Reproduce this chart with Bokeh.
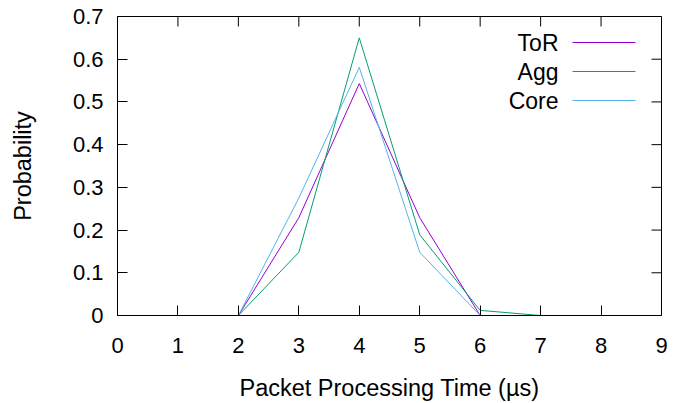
from bokeh.plotting import figure
from bokeh.models import Range1d, FixedTicker, Arrow, Label
from bokeh.embed import file_html
from bokeh.resources import INLINE

# ---- data ----
x_values = [0, 1, 2, 3, 4, 5, 6, 7, 8, 9]
tor_values = [0, 0, 0, 0.229, 0.543, 0.229, 0, 0, 0, 0]
agg_values = [0, 0, 0, 0.148, 0.650, 0.189, 0.012, 0, 0, 0]
core_values = [0, 0, 0, 0.275, 0.581, 0.148, 0, 0, 0, 0]
series_names = ["ToR", "Agg", "Core"]
series_colors = ["#9400d3", "#009e73", "#56b4e9"]
x_ticks = [0, 1, 2, 3, 4, 5, 6, 7, 8, 9]
y_ticks = [0, 0.1, 0.2, 0.3, 0.4, 0.5, 0.6, 0.7]
y_tick_labels = ["0", "0.1", "0.2", "0.3", "0.4", "0.5", "0.6", "0.7"]
x_label = "Packet Processing Time (µs)"
y_label = "Probability"

FONT = "Liberation Sans"
TICK_FS = "22px"
LABEL_FS = "23.5px"
LEGEND_FS = "23px"

W, H = 689, 403
ML, MR, MT, MB = 117, 28, 16, 88
FRAME_W = W - ML - MR
FRAME_H = H - MT - MB
TICK_LEN = 10

p = figure(width=W, height=H,
           x_range=Range1d(x_ticks[0], x_ticks[-1]),
           y_range=Range1d(y_ticks[0], y_ticks[-1]),
           output_backend="svg", toolbar_location=None,
           min_border_left=ML, min_border_right=MR,
           min_border_top=MT, min_border_bottom=MB)
p.grid.visible = False
p.outline_line_color = "black"
p.outline_line_width = 1
p.background_fill_color = "white"
p.border_fill_color = "white"

for ax in p.xaxis + p.yaxis:
    ax.major_tick_in = TICK_LEN
    ax.major_tick_out = 0
    ax.minor_tick_in = 0
    ax.minor_tick_out = 0
    ax.axis_line_color = "black"
    ax.major_tick_line_color = "black"
    ax.major_label_text_font = FONT
    ax.major_label_text_font_size = TICK_FS
    ax.major_label_text_color = "black"
    ax.axis_label_text_font = FONT
    ax.axis_label_text_font_size = LABEL_FS
    ax.axis_label_text_font_style = "normal"
    ax.axis_label_text_color = "black"

p.xaxis.ticker = FixedTicker(ticks=x_ticks)
p.yaxis.ticker = FixedTicker(ticks=y_ticks)
p.yaxis.major_label_overrides = dict(zip(y_ticks, y_tick_labels))
p.xaxis.axis_label = x_label
p.yaxis.axis_label = y_label
p.xaxis.major_label_standoff = 22
p.xaxis.axis_label_standoff = 19
p.yaxis.major_label_standoff = 14
p.yaxis.axis_label_standoff = 34

# mirrored ticks on the top and right edges
x0, x1 = x_ticks[0], x_ticks[-1]
y0, y1 = y_ticks[0], y_ticks[-1]
dy = (y1 - y0) / FRAME_H * TICK_LEN
dx = (x1 - x0) / FRAME_W * TICK_LEN
p.segment(x0=x_ticks, y0=[y1] * len(x_ticks), x1=x_ticks, y1=[y1 - dy] * len(x_ticks),
          line_color="black", line_width=1)
p.segment(x0=[x1] * len(y_ticks), y0=y_ticks, x1=[x1 - dx] * len(y_ticks), y1=y_ticks,
          line_color="black", line_width=1)

for vals, col in zip([tor_values, agg_values, core_values], series_colors):
    p.line(x_values, vals, line_color=col, line_width=1)

# gnuplot-style key: right-aligned text followed by a line sample
key_text_x = 441
key_line_x0, key_line_x1 = 455, 518
key_top = FRAME_H - 26
key_step = 29
for i, (name, col) in enumerate(zip(series_names, series_colors)):
    yy = key_top - i * key_step
    p.add_layout(Label(x=key_text_x, y=yy, x_units="screen", y_units="screen", text=name,
                       text_align="right", text_baseline="middle",
                       text_font=FONT, text_font_size=LEGEND_FS, text_color="black"))
    p.add_layout(Arrow(end=None, x_start=key_line_x0, y_start=yy, x_end=key_line_x1, y_end=yy,
                       start_units="screen", end_units="screen",
                       line_color=col, line_width=1))

open("out.html", "w").write(file_html(p, INLINE))
